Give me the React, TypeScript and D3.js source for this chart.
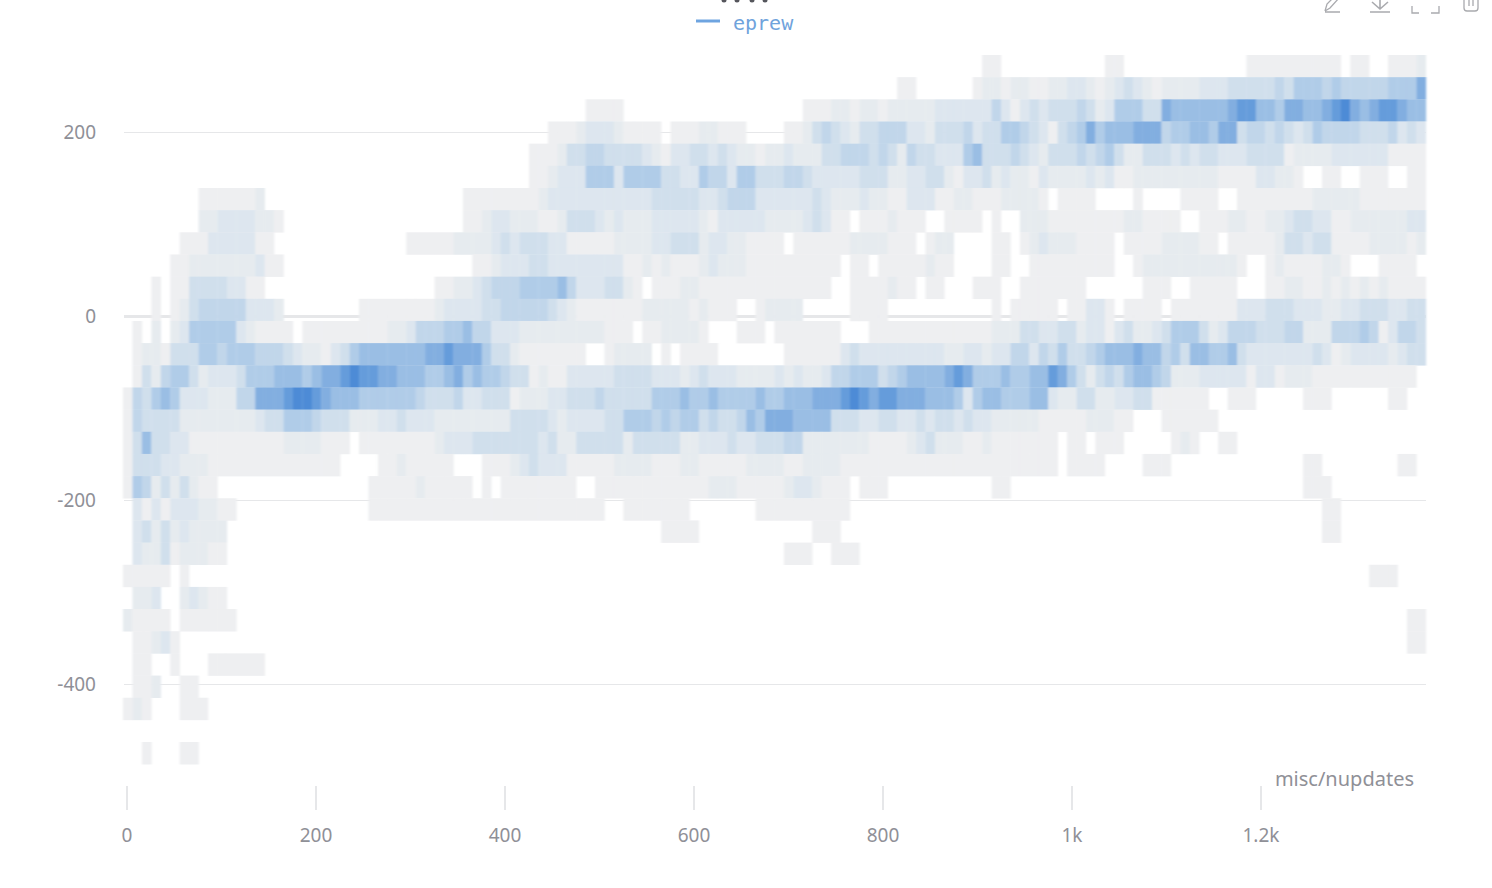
import React from "react";
import * as d3 from "d3";

const E = "..........";
// Binned density per cell: '.' = empty, 0-9 = relative count. One string per y bin, ten x bins per group.
const heatRows: string[] = [
  [E,E,E,E,E,E,E,E,E,".00.......","....00....",".........0","000000000.","00..0001"],
  [E,E,E,E,E,E,E,E,"..00......","0110110011","2210123210","1111222333","3343555454","44445557"],
  [E,E,E,E,".........0","000.......",E,"..00011011","0111112222","2242023233","3431255533","7666666788","6657766789","76788766"],
  [E,E,E,E,".....00012","2210000.00","011000....","0013432133","4442213334","2335543203","4575666777","4556657734","4343235444","43334232"],
  [E,E,E,E,"...0001334","4333321022","3323211011","2111334443","4314332225","6333432133","3434531133","3232332223","3330111122","22220000"],
  [E,E,E,E,"...0012225","5525555332","2544255333","4432222233","3112233102","2312110211","1121200111","1111110000","22110..00.",".000..00"],
  ["........00","00001.....",E,"......0000","0000122222","2222223333","3223444222","2223211121","1002220011","00011110.0","000....0..","..0000..00","0000001111","10000000"],
  ["........11","2222110...",E,"......0012","2111001333","2121112222","2102222211","1123200.00","01000..000","0.0..11100","0000001100","00..000110","0112332200","11111122"],
  ["......0002","222200....",E,"0000011112","3233322000","0011112233","3122110000",".000000111","1000.011..","..00.01211","10000.0000","111100.000","0013323300","00111101"],
  [".....00111","1111200...",E,".......001","2223322222","2220010100","0121110000","000000.00.","00000100..","..00..0000","00000..011","111111110.",".010000110","...0000."],
  ["...0.00333","32200.....",E,"...0011234","4455556422","23310.0001","1000000000","00000..000","0100.00...","000..00000","00......00","0..00000..",".001100101","01010000"],
  ["...0.01344","4442221...",".....00000","0001222233","4444432100","0000011111","01000..011","11.....000","0.........","..0.00000.","00220.0000",".000000022","2333222112","23332233"],
  [".0.1.12555","55210000.0","0000000011","2444556442","2211111111","1000.00111","10...000.0","000000...0","0000000000","0011133223","3122023112","3555312444","3334411144","45402443"],
  [".011033355","4555444321","1023566666","6677877753","310000000.",".01111.0.0","000.......","0000002322","2222222112","2122442435","3345666766","4536655632","2222223201","22221233"],
  [".031455312","2235556665","6778988776","6655675655","4330100222","2233332221","2322211112","1211244555","3456666787","5556556687","5313435665","4111222220","2201110000","0000000."],
  ["0435652221","1144777899","8766655555","5433342233","3011122333","4333335556","5565555655","6667778987","8877766652","5665556621","1331122330","00000..000",".....000..","....00.."],
  ["0433331111","1111233555","4333111223","2221111111","1333321222","2335554545","5343346577","7666633322","3322323323","2211111000","0011100...","000000....",E,"........"],
  ["0363322000","0000000111","1000.00000","0001222333","3333231133","3331333331","1222322333","4411111110","0001231110","010000000.","00.000....",".010..00..",E,"........"],
  ["0333221110","0000000000","000....001","00000...00","0123222000","0011110001","1000001111","0011110000","0000000000","000000000.","0000....00","0.........",".....00...",".....00."],
  ["0541313100",E,"......0000","0100000.0.","00000000..","0000000000","0011100000","1221000.00","0.........","..00......",E,E,".....000..","........"],
  [".202022211","00........","......0000","0000000000","0000000000","0..0000000",".......000","0000000...",E,E,E,E,".......00.","........"],
  [".231312111","1.........",E,E,E,".......000","0.........","...000....",E,E,E,E,".......00.","........"],
  [".211301110","0.........",E,E,E,E,E,"000..000..",E,E,E,E,E,"........"],
  ["00000.0...",E,E,E,E,E,E,E,E,E,E,E,E,"..000..."],
  [".112..1210","0.........",E,E,E,E,E,E,E,E,E,E,E,"........"],
  ["10000.0000","00........",E,E,E,E,E,E,E,E,E,E,E,"......00"],
  [".00120....",E,E,E,E,E,E,E,E,E,E,E,E,"......00"],
  [".00..0...0","00000.....",E,E,E,E,E,E,E,E,E,E,E,"........"],
  [".001..00..",E,E,E,E,E,E,E,E,E,E,E,E,"........"],
  ["010...000.",E,E,E,E,E,E,E,E,E,E,E,E,"........"],
  [E,E,E,E,E,E,E,E,E,E,E,E,E,"........"],
  ["..0...00..",E,E,E,E,E,E,E,E,E,E,E,E,"........"],
].map((groups) => groups.join(""));

const yTicks = [200, 0, -200, -400];
const xTicks = [0, 200, 400, 600, 800, 1000, 1200];
const xTickLabels = ["0", "200", "400", "600", "800", "1k", "1.2k"];
const densityStops = ["#eeeff1", "#e6ebef", "#dde6ef", "#d0dfec", "#c1d6ea", "#b0cce8", "#9abee4", "#82aee0", "#659cdb", "#4d8bd6"];
const titleMarks = [724, 737, 752, 765];

const xBinStart = -4.2;
const xBinSize = 9.99;
const yBinTop = 283.7;
const yBinSize = 24.09;

const x = d3.scaleLinear().domain([0, 200]).range([127, 316]);
const y = d3.scaleLinear().domain([0, 200]).range([316, 132]);
const color = d3.scaleLinear<string>().domain(d3.range(densityStops.length)).range(densityStops).interpolate(d3.interpolateRgb);

const FONT = "'Noto Sans', sans-serif";
const GREY = "#8f9097";
const LINE = "#e6e7e9";

export default function App() {
  const cells: { key: string; x0: number; x1: number; y0: number; y1: number; fill: string }[] = [];
  heatRows.forEach((row, r) => {
    row.split("").forEach((ch, c) => {
      if (ch === ".") return;
      cells.push({
        key: `${r}-${c}`,
        x0: x(xBinStart + c * xBinSize),
        x1: x(xBinStart + (c + 1) * xBinSize),
        y0: y(yBinTop - r * yBinSize),
        y1: y(yBinTop - (r + 1) * yBinSize),
        fill: color(+ch),
      });
    });
  });

  return (
    <svg width={1492} height={888} style={{ position: "absolute", left: 0, top: 0, background: "#fff" }}>
      <defs>
        <filter id="soft" x="-2%" y="-2%" width="104%" height="104%">
          <feGaussianBlur stdDeviation="1.3 0.7" />
        </filter>
      </defs>

      {titleMarks.map((m) => (
        <ellipse key={m} cx={m} cy={0} rx={2.5} ry={2.5} fill="#55565c" />
      ))}
      <line x1={696} x2={720} y1={21} y2={21} stroke="#6ea4e0" strokeWidth={3} />
      <text x={733} y={30} fontFamily="'DejaVu Sans Mono', monospace" fontSize={20} fill="#6fa3dc">eprew</text>

      <g fill="none" stroke="#a9aaae" strokeWidth={1.3}>
        <path d="M1325 11 L1327 4 L1334 -3 M1339 -2 L1330 8 L1325 11 M1325 12 H1340" />
        <path d="M1380 -4 V8 M1372 2 L1380 9 L1388 2 M1370 12 H1390" strokeWidth={1.6} />
        <path d="M1412 6 V13 H1419 M1431 13 H1439 V6" />
        <path d="M1464 -2 V8 Q1464 11 1467 11 H1475 Q1478 11 1478 8 V-2 M1469 0 V6 M1473 0 V6" />
      </g>

      {yTicks.map((t) => (
        <g key={t}>
          <line x1={124} x2={1426} y1={y(t) + 0.5} y2={y(t) + 0.5} stroke={LINE} strokeWidth={t === 0 ? 3 : 1} />
          <text x={96} y={y(t) + 7} textAnchor="end" fontFamily={FONT} fontSize={19} fill={GREY}>{t}</text>
        </g>
      ))}

      <g filter="url(#soft)">
        {cells.map((d) => (
          <rect key={d.key} x={d.x0} y={d.y0} width={d.x1 - d.x0 + 0.3} height={d.y1 - d.y0 + 0.3} fill={d.fill} />
        ))}
      </g>

      {xTicks.map((t, i) => (
        <g key={t}>
          <line x1={x(t)} x2={x(t)} y1={786} y2={810} stroke="#e6e7e9" strokeWidth={2} />
          <text x={x(t)} y={842} textAnchor="middle" fontFamily={FONT} fontSize={19} fill={GREY}>{xTickLabels[i]}</text>
        </g>
      ))}
      <text x={1414} y={786} textAnchor="end" fontFamily={FONT} fontSize={20} fill={GREY}>misc/nupdates</text>
    </svg>
  );
}
